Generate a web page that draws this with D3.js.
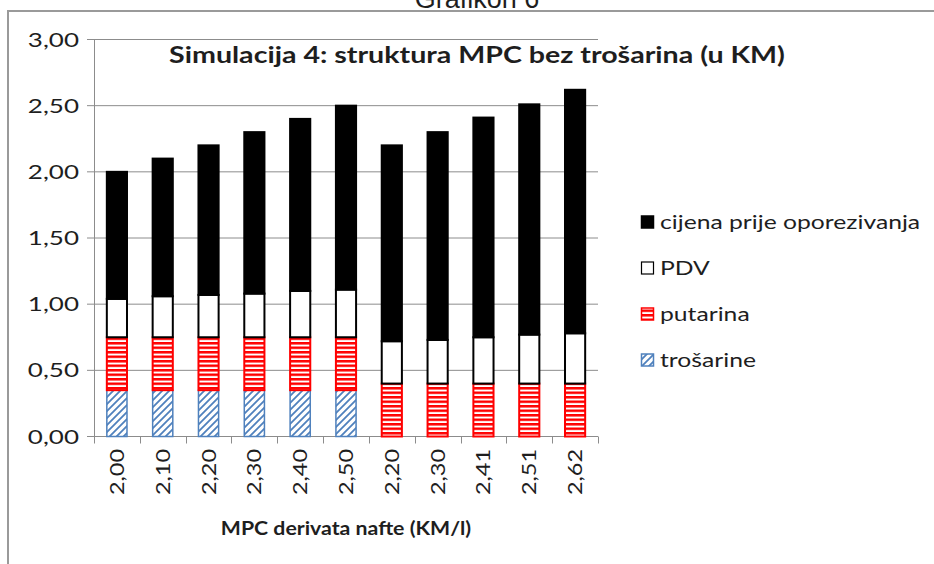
<!DOCTYPE html>
<html>
<head>
<meta charset="utf-8">
<script src="https://cdn.jsdelivr.net/npm/d3@7"></script>
<style>
  body { margin: 0; background: #fff; }
  text { font-family: Lato, "Open Sans", sans-serif; fill: #1e1e1e; }
</style>
</head>
<body>
<svg id="chart" width="934" height="564"></svg>
<script>
// MPC structure, simulation 4 (values in KM)
const categories = ["2,00", "2,10", "2,20", "2,30", "2,40", "2,50", "2,20", "2,30", "2,41", "2,51", "2,62"];
const trosarine = [0.35, 0.35, 0.35, 0.35, 0.35, 0.35, 0, 0, 0, 0, 0];
const putarina = [0.40, 0.40, 0.40, 0.40, 0.40, 0.40, 0.40, 0.40, 0.40, 0.40, 0.40];
const pdv = [0.29, 0.31, 0.32, 0.33, 0.35, 0.36, 0.32, 0.33, 0.35, 0.37, 0.38];
const cijena = [0.96, 1.04, 1.13, 1.22, 1.30, 1.39, 1.48, 1.57, 1.66, 1.74, 1.84];
const yTicks = [0, 0.5, 1, 1.5, 2, 2.5, 3];

const seriesNames = ["trošarine", "putarina", "PDV", "cijena prije oporezivanja"];
const legendOrder = ["cijena prije oporezivanja", "PDV", "putarina", "trošarine"];

const SX = 1.3; // reference text is stretched horizontally
const fmt = (v) => d3.format(".2f")(v).replace(".", ",");

const svg = d3.select("#chart");

// patterns
const defs = svg.append("defs");
const stripes = defs.append("pattern")
  .attr("id", "stripes")
  .attr("patternUnits", "userSpaceOnUse")
  .attr("width", 8).attr("height", 4.5);
stripes.append("rect").attr("width", 8).attr("height", 4.5).attr("fill", "#fff");
stripes.append("rect").attr("width", 8).attr("height", 2.5).attr("fill", "#ff0000");

const hatch = defs.append("pattern")
  .attr("id", "hatch")
  .attr("patternUnits", "userSpaceOnUse")
  .attr("width", 7).attr("height", 7);
hatch.append("rect").attr("width", 7).attr("height", 7).attr("fill", "#fff");
hatch.append("path")
  .attr("d", "M-1,8L8,-1M-1,1L1,-1M6,8L8,6")
  .attr("stroke", "#4f81bd").attr("stroke-width", 1.8);

const fills = {
  "trošarine": { fill: "url(#hatch)", stroke: "#4f81bd", sw: 1.5 },
  "putarina": { fill: "url(#stripes)", stroke: "#ff0000", sw: 2 },
  "PDV": { fill: "#fff", stroke: "#000", sw: 2 },
  "cijena prije oporezivanja": { fill: "#000", stroke: "#000", sw: 2 }
};

// outer frame
svg.append("line").attr("x1", 7).attr("x2", 934).attr("y1", 11).attr("y2", 11)
  .attr("stroke", "#9a9a9a").attr("stroke-width", 2);
svg.append("line").attr("x1", 8).attr("x2", 8).attr("y1", 10).attr("y2", 564)
  .attr("stroke", "#9a9a9a").attr("stroke-width", 2);

svg.append("text")
  .attr("x", 477).attr("y", 8)
  .attr("text-anchor", "middle")
  .style("font-family", "'Liberation Sans', Arial, sans-serif")
  .style("font-size", "27px")
  .text("Grafikon 6");

// scales
const x = d3.scaleBand()
  .domain(d3.range(categories.length))
  .range([94, 598])
  .paddingInner(0.56)
  .paddingOuter(0.28);

const y = d3.scaleLinear().domain([0, 3]).range([436.5, 39.5]);

// gridlines
svg.append("g")
  .selectAll("line")
  .data(yTicks)
  .join("line")
  .attr("x1", 87).attr("x2", 598)
  .attr("y1", (d) => y(d)).attr("y2", (d) => y(d))
  .attr("stroke", "#8c8c8c").attr("stroke-width", 1);

// y axis line
svg.append("line")
  .attr("x1", 94.5).attr("x2", 94.5)
  .attr("y1", y(3)).attr("y2", y(0))
  .attr("stroke", "#8c8c8c");

// y labels
svg.append("g")
  .selectAll("text")
  .data(yTicks)
  .join("text")
  .attr("transform", (d) => `translate(79,${y(d) + 7}) scale(${SX},1)`)
  .attr("text-anchor", "end")
  .style("font-size", "20px")
  .text(fmt);

// x axis
svg.append("line")
  .attr("x1", 94).attr("x2", 598)
  .attr("y1", y(0)).attr("y2", y(0))
  .attr("stroke", "#8c8c8c");
const bounds = d3.range(categories.length + 1).map((i) => 94 + i * x.step());
svg.append("g")
  .selectAll("line")
  .data(bounds)
  .join("line")
  .attr("x1", (d) => Math.round(d) + 0.5).attr("x2", (d) => Math.round(d) + 0.5)
  .attr("y1", y(0)).attr("y2", y(0) + 7)
  .attr("stroke", "#8c8c8c");

// stacked data
const rows = categories.map((c, i) => ({
  i,
  "trošarine": trosarine[i],
  "putarina": putarina[i],
  "PDV": pdv[i],
  "cijena prije oporezivanja": cijena[i]
}));
const stack = d3.stack().keys(seriesNames)(rows);

svg.append("g")
  .selectAll("g")
  .data(stack)
  .join("g")
  .each(function (s) {
    const f = fills[s.key];
    d3.select(this)
      .selectAll("rect")
      .data(s.filter((d) => d[1] - d[0] > 0))
      .join("rect")
      .attr("x", (d) => x(d.data.i))
      .attr("width", x.bandwidth())
      .attr("y", (d) => y(d[1]))
      .attr("height", (d) => y(d[0]) - y(d[1]))
      .attr("fill", f.fill)
      .attr("stroke", f.stroke)
      .attr("stroke-width", f.sw);
  });

// x labels
svg.append("g")
  .selectAll("text")
  .data(categories)
  .join("text")
  .attr("transform", (d, i) => `translate(${x(i) + x.bandwidth() / 2 + 7},449) rotate(-90) scale(${SX * 0.95},1)`)
  .attr("text-anchor", "end")
  .style("font-size", "19px")
  .text((d) => d);

// titles
svg.append("text")
  .attr("transform", `translate(477,63) scale(${SX},1)`)
  .attr("text-anchor", "middle")
  .style("font-size", "22px")
  .style("font-weight", "bold")
  .text("Simulacija 4: struktura MPC bez trošarina (u KM)");

svg.append("text")
  .attr("transform", "translate(346,535) scale(1.12,1)")
  .attr("text-anchor", "middle")
  .style("font-size", "19px")
  .style("font-weight", "bold")
  .text("MPC derivata nafte (KM/l)");

// legend
const legend = svg.append("g")
  .selectAll("g")
  .data(legendOrder)
  .join("g")
  .attr("transform", (d, i) => `translate(641,${222 + i * 46})`);

legend.append("rect")
  .attr("x", 0.5).attr("y", -6)
  .attr("width", 12).attr("height", 12)
  .attr("fill", (d) => fills[d].fill)
  .attr("stroke", (d) => fills[d].stroke)
  .attr("stroke-width", (d) => (d === "PDV" ? 1.2 : 1.5));

legend.append("text")
  .attr("transform", `translate(19,7) scale(${SX},1)`)
  .style("font-size", "19px")
  .text((d) => d);
</script>
</body>
</html>
